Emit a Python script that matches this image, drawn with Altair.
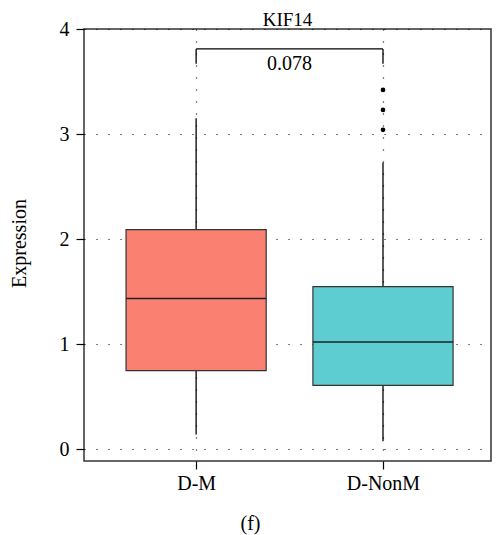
import altair as alt
import pandas as pd

groups = ["D-M", "D-NonM"]
positions = [1, 2]
whisker_low = [0.14, 0.075]
q1 = [0.748, 0.607]
median = [1.434, 1.019]
q3 = [2.09, 1.547]
whisker_high = [3.15, 2.73]
fills = ["#FA8072", "#5ECDD1"]

outlier_group = ["D-NonM", "D-NonM", "D-NonM"]
outlier_pos = [2, 2, 2]
outlier_val = [3.04, 3.23, 3.42]

bracket_from = [1]
bracket_to = [2]
bracket_y = [3.81]
bracket_drop = [3.67]
pvalue = ["0.078"]

title_text = ["KIF14"]

FONT = "Liberation Serif"
FS = 20

X_DOMAIN = [0.4, 2.578]
Y_DOMAIN = [-0.113, 4]

box_df = pd.DataFrame({
    "group": groups, "pos": positions, "lo": whisker_low, "q1": q1,
    "med": median, "q3": q3, "hi": whisker_high, "fill": fills,
})
out_df = pd.DataFrame({"group": outlier_group, "pos": outlier_pos, "val": outlier_val})
br_df = pd.DataFrame({"x1": bracket_from, "x2": bracket_to, "y": bracket_y,
                      "yd": bracket_drop, "label": pvalue})
title_df = pd.DataFrame({"t": title_text, "xm": [sum(X_DOMAIN) / 2]})

xscale = alt.Scale(domain=X_DOMAIN, nice=False, zero=False)
yscale = alt.Scale(domain=Y_DOMAIN, nice=False, zero=False)

common = dict(labelFont=FONT, titleFont=FONT, labelFontSize=FS, titleFontSize=FS,
              labelColor="black", titleColor="black", titleFontWeight="normal",
              tickSize=8, tickColor="black", tickWidth=1.2,
              domain=False, grid=True, gridDash=[1, 11], gridColor="black",
              gridWidth=1.2)
xaxis = alt.Axis(values=[1, 2], labelExpr="datum.value == 1 ? 'D-M' : 'D-NonM'",
                 labelPadding=4, title="(f)", titleX=166, titleY=68,
                 titleBaseline="alphabetic", **common)
yaxis = alt.Axis(values=[0, 1, 2, 3, 4], format="d", labelPadding=7,
                 title="Expression", titleX=-59, titleY=214,
                 titleBaseline="alphabetic", titleAngle=270, **common)

base = alt.Chart(box_df)

whisk_lo = base.mark_rule(color="black", strokeWidth=1.3).encode(
    x=alt.X("pos:Q", scale=xscale, axis=xaxis),
    y=alt.Y("lo:Q", scale=yscale, axis=yaxis),
    y2="q1:Q",
)
whisk_hi = base.mark_rule(color="black", strokeWidth=1.3).encode(
    x=alt.X("pos:Q", scale=xscale), y=alt.Y("q3:Q", scale=yscale), y2="hi:Q",
)
boxes = base.transform_calculate(
    xl="datum.pos - 0.375", xr="datum.pos + 0.375"
).mark_rect(stroke="#333333", strokeWidth=1.2).encode(
    x=alt.X("xl:Q", scale=xscale), x2="xr:Q",
    y=alt.Y("q1:Q", scale=yscale), y2="q3:Q",
    fill=alt.Fill("fill:N", scale=None),
)
meds = base.transform_calculate(
    xl="datum.pos - 0.375", xr="datum.pos + 0.375"
).mark_rule(color="#222222", strokeWidth=1.5).encode(
    x=alt.X("xl:Q", scale=xscale), x2="xr:Q", y=alt.Y("med:Q", scale=yscale),
)
outs = alt.Chart(out_df).mark_circle(color="black", size=22, opacity=1).encode(
    x=alt.X("pos:Q", scale=xscale), y=alt.Y("val:Q", scale=yscale),
)
br_h = alt.Chart(br_df).mark_rule(color="black", strokeWidth=1.3).encode(
    x=alt.X("x1:Q", scale=xscale), x2="x2:Q", y=alt.Y("y:Q", scale=yscale),
)
br_l = alt.Chart(br_df).mark_rule(color="black", strokeWidth=1.3).encode(
    x=alt.X("x1:Q", scale=xscale), y=alt.Y("y:Q", scale=yscale), y2="yd:Q",
)
br_r = alt.Chart(br_df).mark_rule(color="black", strokeWidth=1.3).encode(
    x=alt.X("x2:Q", scale=xscale), y=alt.Y("y:Q", scale=yscale), y2="yd:Q",
)
br_t = alt.Chart(br_df).transform_calculate(xm="(datum.x1 + datum.x2) / 2").mark_text(
    font=FONT, fontSize=FS, color="black", baseline="middle"
).encode(
    x=alt.X("xm:Q", scale=xscale), y=alt.Y("yd:Q", scale=yscale), text="label:N",
)
title_mark = alt.Chart(title_df).mark_text(
    font=FONT, fontSize=19, color="black", baseline="alphabetic"
).encode(
    x=alt.X("xm:Q", scale=xscale), y=alt.value(-3.5), text="t:N",
)

chart = alt.layer(whisk_lo, whisk_hi, boxes, meds, outs, br_h, br_l, br_r, br_t,
                  title_mark).properties(
    width=407, height=432,
    autosize=alt.AutoSizeParams(type="none"),
    padding={"left": 76, "top": 21, "right": 1, "bottom": 74},
).configure_view(
    stroke="#333333", strokeWidth=1.5
)

chart.save("out.html", embed_options={"renderer": "svg", "actions": False})
